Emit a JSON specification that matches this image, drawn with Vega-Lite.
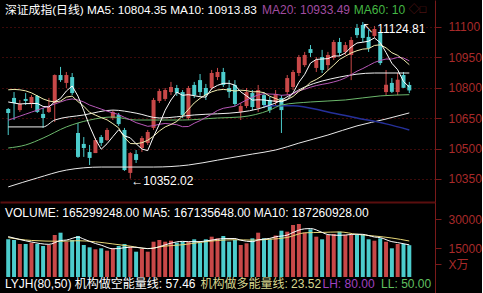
{
"$schema": "https://vega.github.io/schema/vega-lite/v6.json",
"background": "#000000",
"padding": 0,
"spacing": 0,
"config": {"view": {"stroke": null}, "font": "Liberation Sans, Noto Sans CJK SC"},
"datasets": {
"k": [
{"i":0,"o":10695,"h":10700,"l":10567,"c":10676,"v":19600,"m5":10730,"m10":10790,"m20":10640},
{"i":1,"o":10750,"h":10779,"l":10641,"c":10725,"v":19240,"m5":10725,"m10":10792,"m20":10650},
{"i":2,"o":10690,"h":10740,"l":10681,"c":10720,"v":17160,"m5":10720,"m10":10790,"m20":10660},
{"i":3,"o":10745,"h":10774,"l":10715,"c":10735,"v":17160,"m5":10722,"m10":10785,"m20":10670},
{"i":4,"o":10720,"h":10764,"l":10700,"c":10755,"v":17840,"m5":10722,"m10":10775,"m20":10680},
{"i":5,"o":10760,"h":10764,"l":10676,"c":10681,"v":17160,"m5":10723,"m10":10760,"m20":10690},
{"i":6,"o":10671,"h":10700,"l":10602,"c":10651,"v":16120,"m5":10708,"m10":10745,"m20":10700},
{"i":7,"o":10681,"h":10750,"l":10676,"c":10705,"v":16640,"m5":10705,"m10":10735,"m20":10710},
{"i":8,"o":10725,"h":10866,"l":10631,"c":10863,"v":21840,"m5":10731,"m10":10730,"m20":10720},
{"i":9,"o":10863,"h":10903,"l":10829,"c":10838,"v":23040,"m5":10748,"m10":10735,"m20":10730},
{"i":10,"o":10824,"h":10878,"l":10799,"c":10863,"v":18360,"m5":10784,"m10":10754,"m20":10740},
{"i":11,"o":10853,"h":10873,"l":10764,"c":10774,"v":19240,"m5":10809,"m10":10759,"m20":10745},
{"i":12,"o":10577,"h":10626,"l":10454,"c":10459,"v":21320,"m5":10759,"m10":10732,"m20":10740},
{"i":13,"o":10523,"h":10557,"l":10459,"c":10503,"v":16640,"m5":10687,"m10":10709,"m20":10730},
{"i":14,"o":10483,"h":10518,"l":10419,"c":10454,"v":15440,"m5":10611,"m10":10679,"m20":10715},
{"i":15,"o":10478,"h":10552,"l":10478,"c":10542,"v":14400,"m5":10546,"m10":10665,"m20":10705},
{"i":16,"o":10557,"h":10567,"l":10513,"c":10528,"v":14920,"m5":10497,"m10":10653,"m20":10695},
{"i":17,"o":10542,"h":10602,"l":10538,"c":10592,"v":13680,"m5":10524,"m10":10642,"m20":10685},
{"i":18,"o":10651,"h":10690,"l":10641,"c":10681,"v":14920,"m5":10559,"m10":10623,"m20":10676},
{"i":19,"o":10666,"h":10676,"l":10612,"c":10621,"v":16120,"m5":10593,"m10":10602,"m20":10668},
{"i":20,"o":10592,"h":10602,"l":10390,"c":10394,"v":17160,"m5":10563,"m10":10555,"m20":10654},
{"i":21,"o":10380,"h":10483,"l":10352.02,"c":10478,"v":15760,"m5":10553,"m10":10525,"m20":10642},
{"i":22,"o":10473,"h":10493,"l":10429,"c":10444,"v":13160,"m5":10524,"m10":10524,"m20":10628},
{"i":23,"o":10503,"h":10562,"l":10483,"c":10552,"v":14560,"m5":10498,"m10":10529,"m20":10619},
{"i":24,"o":10528,"h":10592,"l":10518,"c":10582,"v":13160,"m5":10490,"m10":10541,"m20":10610},
{"i":25,"o":10602,"h":10750,"l":10592,"c":10740,"v":18360,"m5":10559,"m10":10561,"m20":10613},
{"i":26,"o":10735,"h":10794,"l":10725,"c":10784,"v":19240,"m5":10620,"m10":10587,"m20":10620},
{"i":27,"o":10745,"h":10799,"l":10735,"c":10789,"v":18360,"m5":10689,"m10":10607,"m20":10624},
{"i":28,"o":10779,"h":10829,"l":10764,"c":10804,"v":18880,"m5":10740,"m10":10619,"m20":10621},
{"i":29,"o":10799,"h":10814,"l":10760,"c":10774,"v":17840,"m5":10778,"m10":10634,"m20":10618},
{"i":30,"o":10779,"h":10789,"l":10651,"c":10666,"v":18360,"m5":10763,"m10":10661,"m20":10608},
{"i":31,"o":10651,"h":10809,"l":10641,"c":10799,"v":18360,"m5":10766,"m10":10693,"m20":10609},
{"i":32,"o":10814,"h":10829,"l":10750,"c":10764,"v":19600,"m5":10761,"m10":10725,"m20":10625},
{"i":33,"o":10838,"h":10868,"l":10760,"c":10779,"v":17840,"m5":10756,"m10":10748,"m20":10638},
{"i":34,"o":10799,"h":10819,"l":10740,"c":10764,"v":19600,"m5":10754,"m10":10766,"m20":10654},
{"i":35,"o":10799,"h":10888,"l":10789,"c":10873,"v":20960,"m5":10796,"m10":10780,"m20":10670},
{"i":36,"o":10853,"h":10898,"l":10838,"c":10878,"v":20120,"m5":10812,"m10":10789,"m20":10688},
{"i":37,"o":10878,"h":10898,"l":10804,"c":10814,"v":21320,"m5":10822,"m10":10792,"m20":10699},
{"i":38,"o":10799,"h":10838,"l":10750,"c":10779,"v":18360,"m5":10822,"m10":10789,"m20":10704},
{"i":39,"o":10814,"h":10838,"l":10710,"c":10720,"v":19240,"m5":10813,"m10":10784,"m20":10709},
{"i":40,"o":10681,"h":10725,"l":10641,"c":10710,"v":16640,"m5":10780,"m10":10788,"m20":10725},
{"i":41,"o":10710,"h":10799,"l":10700,"c":10779,"v":17520,"m5":10760,"m10":10786,"m20":10740},
{"i":42,"o":10774,"h":10789,"l":10690,"c":10705,"v":20120,"m5":10739,"m10":10780,"m20":10753},
{"i":43,"o":10700,"h":10814,"l":10681,"c":10789,"v":23040,"m5":10741,"m10":10781,"m20":10765},
{"i":44,"o":10764,"h":10779,"l":10700,"c":10715,"v":20120,"m5":10740,"m10":10776,"m20":10771},
{"i":45,"o":10740,"h":10755,"l":10676,"c":10690,"v":19600,"m5":10736,"m10":10758,"m20":10769},
{"i":46,"o":10730,"h":10789,"l":10715,"c":10769,"v":21580,"m5":10734,"m10":10747,"m20":10768},
{"i":47,"o":10750,"h":10764,"l":10577,"c":10690,"v":24080,"m5":10731,"m10":10735,"m20":10763},
{"i":48,"o":10779,"h":10863,"l":10764,"c":10848,"v":23560,"m5":10742,"m10":10742,"m20":10765},
{"i":49,"o":10804,"h":10888,"l":10789,"c":10878,"v":27040,"m5":10775,"m10":10757,"m20":10770},
{"i":50,"o":10873,"h":10962,"l":10858,"c":10952,"v":27560,"m5":10827,"m10":10782,"m20":10785},
{"i":51,"o":10912,"h":10977,"l":10903,"c":10962,"v":23040,"m5":10866,"m10":10800,"m20":10793},
{"i":52,"o":10991,"h":11011,"l":10952,"c":10972,"v":24800,"m5":10922,"m10":10827,"m20":10803},
{"i":53,"o":10898,"h":10952,"l":10878,"c":10937,"v":20960,"m5":10940,"m10":10841,"m20":10811},
{"i":54,"o":10952,"h":10987,"l":10873,"c":10888,"v":19600,"m5":10942,"m10":10859,"m20":10817},
{"i":55,"o":10912,"h":10977,"l":10888,"c":10962,"v":21840,"m5":10944,"m10":10886,"m20":10822},
{"i":56,"o":10947,"h":11036,"l":10937,"c":11026,"v":22360,"m5":10957,"m10":10912,"m20":10829},
{"i":57,"o":11026,"h":11046,"l":10957,"c":10972,"v":23560,"m5":10957,"m10":10940,"m20":10837},
{"i":58,"o":10977,"h":11026,"l":10962,"c":11011,"v":21840,"m5":10972,"m10":10956,"m20":10849},
{"i":59,"o":10962,"h":11051,"l":10838,"c":11036,"v":21840,"m5":11001,"m10":10972,"m20":10865},
{"i":60,"o":11095,"h":11115,"l":11046,"c":11060,"v":21840,"m5":11021,"m10":10983,"m20":10882},
{"i":61,"o":11110,"h":11124.81,"l":11026,"c":11046,"v":21840,"m5":11025,"m10":10991,"m20":10895},
{"i":62,"o":11051,"h":11085,"l":10977,"c":10996,"v":19600,"m5":11030,"m10":10993,"m20":10910},
{"i":63,"o":11056,"h":11105,"l":11046,"c":11090,"v":18880,"m5":11046,"m10":11009,"m20":10925},
{"i":64,"o":11070,"h":11085,"l":10912,"c":10922,"v":20120,"m5":11023,"m10":11012,"m20":10935},
{"i":65,"o":10779,"h":10888,"l":10764,"c":10815,"v":18360,"m5":10974,"m10":10997,"m20":10942},
{"i":66,"o":10824,"h":10848,"l":10774,"c":10780,"v":14920,"m5":10921,"m10":10973,"m20":10942},
{"i":67,"o":10779,"h":10873,"l":10764,"c":10840,"v":17160,"m5":10889,"m10":10960,"m20":10950},
{"i":68,"o":10863,"h":10878,"l":10799,"c":10800,"v":17160,"m5":10831,"m10":10939,"m20":10947},
{"i":69,"o":10814,"h":10829,"l":10774,"c":10787,"v":16530,"m5":10804,"m10":10914,"m20":10933}
],
"p": [
{"s":"m30","i":0,"v":10607},{"s":"m30","i":6,"v":10607},{"s":"m30","i":8,"v":10641},{"s":"m30","i":13,"v":10666},{"s":"m30","i":18,"v":10690},{"s":"m30","i":22,"v":10675},{"s":"m30","i":26,"v":10651},{"s":"m30","i":32,"v":10666},{"s":"m30","i":40,"v":10680},{"s":"m30","i":46,"v":10725},{"s":"m30","i":51,"v":10804},{"s":"m30","i":57,"v":10853},{"s":"m30","i":63,"v":10873},{"s":"m30","i":69,"v":10873},
{"s":"m60","i":0,"v":10503},{"s":"m60","i":3,"v":10518},{"s":"m60","i":6,"v":10552},{"s":"m60","i":10,"v":10607},{"s":"m60","i":14,"v":10641},{"s":"m60","i":18,"v":10656},{"s":"m60","i":22,"v":10641},{"s":"m60","i":26,"v":10641},{"s":"m60","i":30,"v":10641},{"s":"m60","i":36,"v":10651},{"s":"m60","i":40,"v":10656},{"s":"m60","i":45,"v":10690},{"s":"m60","i":47,"v":10715},{"s":"m60","i":52,"v":10730},{"s":"m60","i":58,"v":10740},{"s":"m60","i":64,"v":10760},{"s":"m60","i":69,"v":10766},
{"s":"m120","i":44,"v":10712},{"s":"m120","i":49,"v":10712},{"s":"m120","i":55,"v":10681},{"s":"m120","i":60,"v":10651},{"s":"m120","i":65,"v":10622},{"s":"m120","i":69,"v":10592},
{"s":"m250","i":0,"v":10311},{"s":"m250","i":5,"v":10355},{"s":"m250","i":10,"v":10394},{"s":"m250","i":16,"v":10409},{"s":"m250","i":25,"v":10409},{"s":"m250","i":31,"v":10419},{"s":"m250","i":36,"v":10443},{"s":"m250","i":42,"v":10473},{"s":"m250","i":46,"v":10493},{"s":"m250","i":50,"v":10527},{"s":"m250","i":55,"v":10567},{"s":"m250","i":60,"v":10612},{"s":"m250","i":65,"v":10646},{"s":"m250","i":69,"v":10676}
],
"vm": [
{"s":"a","i":0,"v":21000},{"s":"a","i":2,"v":19500},{"s":"a","i":4,"v":18200},{"s":"a","i":7,"v":16984},{"s":"a","i":9,"v":18960},{"s":"a","i":10,"v":19200},{"s":"a","i":12,"v":20760},{"s":"a","i":13,"v":19720},{"s":"a","i":15,"v":17408},{"s":"a","i":16,"v":16544},{"s":"a","i":18,"v":14672},{"s":"a","i":19,"v":14808},{"s":"a","i":21,"v":15528},{"s":"a","i":22,"v":15424},{"s":"a","i":24,"v":14760},{"s":"a","i":25,"v":15000},{"s":"a","i":27,"v":16736},{"s":"a","i":28,"v":17600},{"s":"a","i":30,"v":18536},{"s":"a","i":31,"v":18360},{"s":"a","i":33,"v":18400},{"s":"a","i":34,"v":18752},{"s":"a","i":36,"v":19624},{"s":"a","i":37,"v":19968},{"s":"a","i":39,"v":20000},{"s":"a","i":40,"v":19136},{"s":"a","i":42,"v":18376},{"s":"a","i":43,"v":19312},{"s":"a","i":45,"v":20080},{"s":"a","i":46,"v":20892},{"s":"a","i":48,"v":21788},{"s":"a","i":49,"v":23172},{"s":"a","i":51,"v":25056},{"s":"a","i":52,"v":25200},{"s":"a","i":54,"v":23192},{"s":"a","i":55,"v":22048},{"s":"a","i":57,"v":21664},{"s":"a","i":58,"v":21840},{"s":"a","i":60,"v":22288},{"s":"a","i":61,"v":22184},{"s":"a","i":63,"v":20800},{"s":"a","i":64,"v":20456},{"s":"a","i":66,"v":18376},{"s":"a","i":67,"v":17888},{"s":"a","i":69,"v":16714},
{"s":"b","i":0,"v":20500},{"s":"b","i":4,"v":19000},{"s":"b","i":9,"v":18580},{"s":"b","i":12,"v":18872},{"s":"b","i":15,"v":18304},{"s":"b","i":18,"v":17196},{"s":"b","i":21,"v":16036},{"s":"b","i":24,"v":14784},{"s":"b","i":27,"v":16080},{"s":"b","i":30,"v":16768},{"s":"b","i":33,"v":18000},{"s":"b","i":36,"v":18992},{"s":"b","i":39,"v":19376},{"s":"b","i":42,"v":19172},{"s":"b","i":45,"v":19608},{"s":"b","i":48,"v":20550},{"s":"b","i":51,"v":22974},{"s":"b","i":54,"v":23182},{"s":"b","i":57,"v":23432},{"s":"b","i":60,"v":22168},{"s":"b","i":63,"v":21320},{"s":"b","i":66,"v":20280},{"s":"b","i":69,"v":18726}
]
},
"vconcat": [
{
"width": 435, "height": 202,
"data": {"name": "k"},
"encoding": {"x": {"field": "i", "type": "quantitative", "title": null, "scale": {"domain": [-0.555, 72.56], "nice": false, "zero": false},
  "axis": {"orient": "bottom", "labels": false, "ticks": false, "grid": false, "domain": true, "domainColor": "#5a0e0e", "domainWidth": 2, "title": null}}},
"layer": [
{"mark": {"type": "rule", "strokeWidth": 1},
 "encoding": {
  "y": {"field": "l", "type": "quantitative", "title": null, "scale": {"domain": [10236.5, 11233.2], "nice": false, "zero": false},
   "axis": {"orient": "right", "values": [10350, 10500, 10650, 10800, 10950, 11100], "format": "d", "grid": true, "gridColor": "#7a1515", "gridDash": [1, 3], "domainColor": "#7a1a1a", "tickColor": "#7a1a1a", "tickSize": 6, "labelPadding": 7, "labelColor": "#a82a2a", "labelFontSize": 12, "labelFont": "Liberation Sans", "title": null}},
  "y2": {"field": "h"},
  "color": {"condition": {"test": "datum.c >= datum.o", "value": "#c84848"}, "value": "#4ccccc"}}},
{"mark": {"type": "bar", "size": 4},
 "encoding": {
  "y": {"field": "o", "type": "quantitative", "title": null, "scale": {"domain": [10236.5, 11233.2], "nice": false, "zero": false}},
  "y2": {"field": "c"},
  "color": {"condition": {"test": "datum.c >= datum.o", "value": "#c84848"}, "value": "#4ccccc"}}},
{"data": {"name": "p"}, "transform": [{"filter": "datum.s == 'm250'"}], "mark": {"type": "line", "color": "#e8e8e8", "strokeWidth": 1, "interpolate": "monotone"},
 "encoding": {"y": {"field": "v", "type": "quantitative", "title": null, "scale": {"domain": [10236.5, 11233.2], "nice": false, "zero": false}}}},
{"data": {"name": "p"}, "transform": [{"filter": "datum.s == 'm120'"}], "mark": {"type": "line", "color": "#25309a", "strokeWidth": 1.5, "interpolate": "monotone"},
 "encoding": {"y": {"field": "v", "type": "quantitative", "title": null, "scale": {"domain": [10236.5, 11233.2], "nice": false, "zero": false}}}},
{"data": {"name": "p"}, "transform": [{"filter": "datum.s == 'm60'"}], "mark": {"type": "line", "color": "#6cb86c", "strokeWidth": 1, "interpolate": "monotone"},
 "encoding": {"y": {"field": "v", "type": "quantitative", "title": null, "scale": {"domain": [10236.5, 11233.2], "nice": false, "zero": false}}}},
{"data": {"name": "p"}, "transform": [{"filter": "datum.s == 'm30'"}], "mark": {"type": "line", "color": "#f0f0f0", "strokeWidth": 1, "interpolate": "monotone"},
 "encoding": {"y": {"field": "v", "type": "quantitative", "title": null, "scale": {"domain": [10236.5, 11233.2], "nice": false, "zero": false}}}},
{"mark": {"type": "line", "color": "#b858b8", "strokeWidth": 1},
 "encoding": {"y": {"field": "m20", "type": "quantitative", "title": null, "scale": {"domain": [10236.5, 11233.2], "nice": false, "zero": false}}}},
{"mark": {"type": "line", "color": "#f2eeb0", "strokeWidth": 1},
 "encoding": {"y": {"field": "m10", "type": "quantitative", "title": null, "scale": {"domain": [10236.5, 11233.2], "nice": false, "zero": false}}}},
{"mark": {"type": "line", "color": "#ffffff", "strokeWidth": 1},
 "encoding": {"y": {"field": "m5", "type": "quantitative", "title": null, "scale": {"domain": [10236.5, 11233.2], "nice": false, "zero": false}}}},
{"transform": [{"filter": "datum.i == 21"}], "mark": {"type": "text", "align": "left", "baseline": "middle", "fontSize": 12, "color": "#ffffff", "dx": 1, "dy": 2},
 "encoding": {"y": {"field": "l", "type": "quantitative", "title": null, "scale": {"domain": [10236.5, 11233.2], "nice": false, "zero": false}}, "text": {"value": "←10352.02"}}},
{"transform": [{"filter": "datum.i == 61"}], "mark": {"type": "text", "align": "left", "baseline": "top", "fontSize": 12, "color": "#ffffff", "dx": -1, "dy": 2},
 "encoding": {"y": {"field": "h", "type": "quantitative", "title": null, "scale": {"domain": [10236.5, 11233.2], "nice": false, "zero": false}}, "text": {"value": "↖ 11124.81"}}},
{"transform": [{"filter": "datum.i == 0"}], "mark": {"type": "text", "align": "left", "baseline": "middle", "fontSize": 11.8, "color": "#ffffff"},
 "encoding": {"x": {"datum": -0.555, "type": "quantitative"}, "y": {"datum": 11185, "type": "quantitative"}, "text": {"value": "深证成指(日线) MA5: 10804.35 MA10: 10913.83"}}},
{"transform": [{"filter": "datum.i == 0"}], "mark": {"type": "text", "align": "left", "baseline": "middle", "fontSize": 12, "color": "#a04ca0"},
 "encoding": {"x": {"datum": 43.65, "type": "quantitative"}, "y": {"datum": 11185, "type": "quantitative"}, "text": {"value": "MA20: 10933.49"}}},
{"transform": [{"filter": "datum.i == 0"}], "mark": {"type": "text", "align": "left", "baseline": "middle", "fontSize": 12, "color": "#44b844"},
 "encoding": {"x": {"datum": 59.45, "type": "quantitative"}, "y": {"datum": 11185, "type": "quantitative"}, "text": {"value": "MA60: 10"}}},
{"transform": [{"filter": "datum.i == 0"}], "mark": {"type": "text", "align": "left", "baseline": "middle", "fontSize": 11, "color": "#6a1a1a"},
 "encoding": {"x": {"datum": 68.86, "type": "quantitative"}, "y": {"datum": 11185, "type": "quantitative"}, "text": {"value": "◇□"}}}
]
},
{
"width": 435, "height": 91,
"data": {"name": "k"},
"encoding": {"x": {"field": "i", "type": "quantitative", "title": null, "scale": {"domain": [-0.555, 72.56], "nice": false, "zero": false}, "axis": null}},
"layer": [
{"mark": {"type": "bar", "size": 4},
 "encoding": {
  "y": {"field": "v", "type": "quantitative", "title": null, "scale": {"domain": [-8320, 39000], "nice": false, "zero": false},
   "axis": {"orient": "right", "values": [6760, 15000, 30000], "format": "d", "labelExpr": "datum.value < 10000 ? 'X万' : datum.label", "grid": false, "domainColor": "#7a1a1a", "tickColor": "#7a1a1a", "tickSize": 6, "labelPadding": 7, "labelColor": "#a82a2a", "labelFontSize": 12, "labelFont": "Liberation Sans, Noto Sans CJK SC", "title": null}},
  "y2": {"datum": 0},
  "color": {"condition": {"test": "datum.c >= datum.o", "value": "#c84848"}, "value": "#4ccccc"}}},
{"data": {"name": "vm"}, "transform": [{"filter": "datum.s == 'b'"}], "mark": {"type": "line", "color": "#e8d878", "strokeWidth": 1, "interpolate": "monotone"},
 "encoding": {"y": {"field": "v", "type": "quantitative", "title": null, "scale": {"domain": [-8320, 39000], "nice": false, "zero": false}}}},
{"data": {"name": "vm"}, "transform": [{"filter": "datum.s == 'a'"}], "mark": {"type": "line", "color": "#ffffff", "strokeWidth": 1, "interpolate": "monotone"},
 "encoding": {"y": {"field": "v", "type": "quantitative", "title": null, "scale": {"domain": [-8320, 39000], "nice": false, "zero": false}}}},
{"transform": [{"filter": "datum.i == 0"}], "mark": {"type": "text", "align": "left", "baseline": "middle", "fontSize": 12, "color": "#ffffff"},
 "encoding": {"x": {"datum": -0.555, "type": "quantitative"}, "y": {"datum": 33280, "type": "quantitative"}, "text": {"value": "VOLUME: 165299248.00 MA5: 167135648.00 MA10: 187260928.00"}}},
{"transform": [{"filter": "datum.i == 0"}], "mark": {"type": "text", "align": "left", "baseline": "middle", "fontSize": 12, "color": "#ffffff"},
 "encoding": {"x": {"datum": -0.555, "type": "quantitative"}, "y": {"datum": -3640, "type": "quantitative"}, "text": {"value": "LYJH(80,50) 机构做空能量线: 57.46"}}},
{"transform": [{"filter": "datum.i == 0"}], "mark": {"type": "text", "align": "left", "baseline": "middle", "fontSize": 12, "color": "#d8d890"},
 "encoding": {"x": {"datum": 33.06, "type": "quantitative"}, "y": {"datum": -3640, "type": "quantitative"}, "text": {"value": "机构做多能量线: 23.52"}}},
{"transform": [{"filter": "datum.i == 0"}], "mark": {"type": "text", "align": "left", "baseline": "middle", "fontSize": 12, "color": "#a040c0"},
 "encoding": {"x": {"datum": 54.07, "type": "quantitative"}, "y": {"datum": -3640, "type": "quantitative"}, "text": {"value": "LH: 80.00"}}},
{"transform": [{"filter": "datum.i == 0"}], "mark": {"type": "text", "align": "left", "baseline": "middle", "fontSize": 12, "color": "#60c060"},
 "encoding": {"x": {"datum": 64.15, "type": "quantitative"}, "y": {"datum": -3640, "type": "quantitative"}, "text": {"value": "LL: 50.00"}}}
]
}
]
}
